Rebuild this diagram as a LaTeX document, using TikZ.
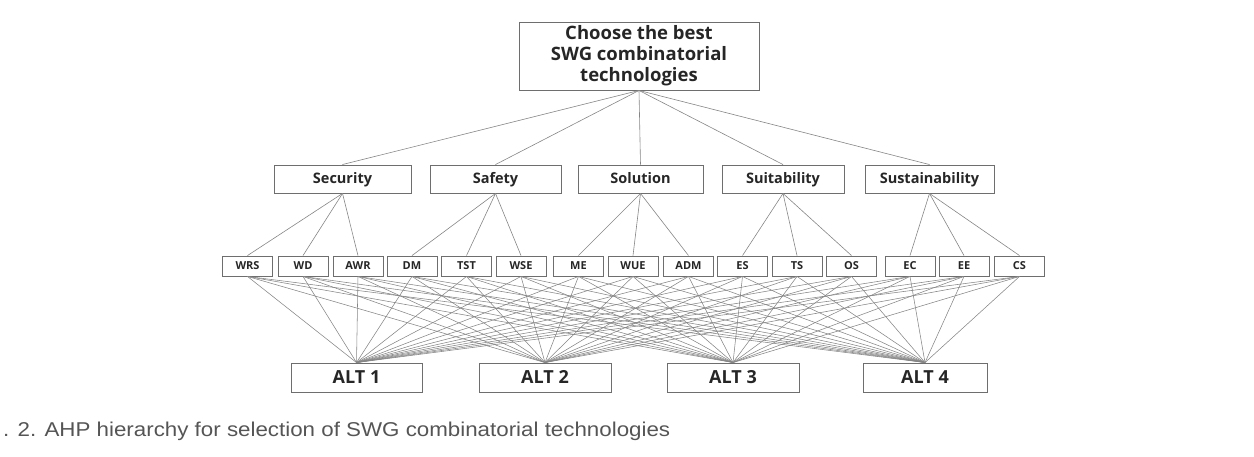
\documentclass[tikz,border=0pt]{standalone}
\usepackage{fontspec}
\setmainfont{Open Sans}
\newfontfamily\capfont{Liberation Sans}
\definecolor{boxline}{HTML}{6E6E6E}
\definecolor{conn}{HTML}{858585}
\definecolor{captext}{HTML}{555555}
\begin{document}
\begin{tikzpicture}[x=1pt,y=-1pt,
  box/.style={draw=boxline,line width=0.9pt,inner sep=0pt,align=center,text=black!85},
  goalbox/.style={box,minimum width=240pt,minimum height=68pt,font=\fontsize{18.5}{21}\selectfont\bfseries},
  critbox/.style={box,minimum height=28pt,text height=11pt,text depth=3pt,font=\fontsize{14.5}{16}\selectfont\bfseries},
  subbox/.style={box,minimum width=50pt,minimum height=20pt,text height=7.5pt,text depth=0pt,font=\fontsize{11}{12}\selectfont\bfseries},
  altbox/.style={box,minimum height=29pt,text height=12pt,text depth=0pt,font=\fontsize{18}{20}\selectfont\bfseries},
  link/.style={draw=conn,line width=0.6pt}]
\useasboundingbox (0,0) rectangle (1254,456);

% goal
\node[goalbox] (goal) at (639,56) {Choose the best\\SWG combinatorial\\technologies};

% criteria
\node[critbox,minimum width=137pt] (sec) at (342.5,179) {Security};
\node[critbox,minimum width=131pt] (saf) at (495.5,179) {Safety};
\node[critbox,minimum width=125pt] (sol) at (640.5,179) {Solution};
\node[critbox,minimum width=122pt] (sui) at (783,179) {Suitability};
\node[critbox,minimum width=129pt] (sus) at (929.5,179) {Sustainability};

% sub-criteria
\node[subbox] (WRS) at (247.5,266) {WRS};
\node[subbox] (WD)  at (303,266) {WD};
\node[subbox] (AWR) at (358,266) {AWR};
\node[subbox] (DM)  at (412,266) {DM};
\node[subbox] (TST) at (466.5,266) {TST};
\node[subbox] (WSE) at (521,266) {WSE};
\node[subbox] (ME)  at (578.5,266) {ME};
\node[subbox] (WUE) at (633,266) {WUE};
\node[subbox] (ADM) at (688.5,266) {ADM};
\node[subbox] (ES)  at (742.5,266) {ES};
\node[subbox] (TS)  at (797,266) {TS};
\node[subbox] (OS)  at (851.5,266) {OS};
\node[subbox] (EC)  at (910,266) {EC};
\node[subbox] (EE)  at (964,266) {EE};
\node[subbox] (CS)  at (1019.5,266) {CS};

% alternatives
\node[altbox,minimum width=131pt] (A1) at (356.5,377.5) {ALT 1};
\node[altbox,minimum width=132pt] (A2) at (545,377.5) {ALT 2};
\node[altbox,minimum width=132pt] (A3) at (733,377.5) {ALT 3};
\node[altbox,minimum width=124pt] (A4) at (925,377.5) {ALT 4};

% connectors goal -> criteria
\foreach \c in {sec,saf,sol,sui,sus}
  \draw[link] (goal.south) -- (\c.north);

% criteria -> sub-criteria
\foreach \s in {WRS,WD,AWR} \draw[link] (sec.south) -- (\s.north);
\foreach \s in {DM,TST,WSE} \draw[link] (saf.south) -- (\s.north);
\foreach \s in {ME,WUE,ADM} \draw[link] (sol.south) -- (\s.north);
\foreach \s in {ES,TS,OS} \draw[link] (sui.south) -- (\s.north);
\foreach \s in {EC,EE,CS} \draw[link] (sus.south) -- (\s.north);

% sub-criteria -> alternatives
\foreach \s in {WRS,WD,AWR,DM,TST,WSE,ME,WUE,ADM,ES,TS,OS,EC,EE,CS}
  \foreach \a in {A1,A2,A3,A4}
    \draw[link,line width=0.55pt] (\s.south) -- (\a.north);

% caption
\node[anchor=base west,inner sep=0pt,text=captext] (cap) at (3,436)
  {\resizebox{667pt}{14.5pt}{\capfont . 2. AHP hierarchy for selection of SWG combinatorial technologies}};
\end{tikzpicture}
\end{document}
